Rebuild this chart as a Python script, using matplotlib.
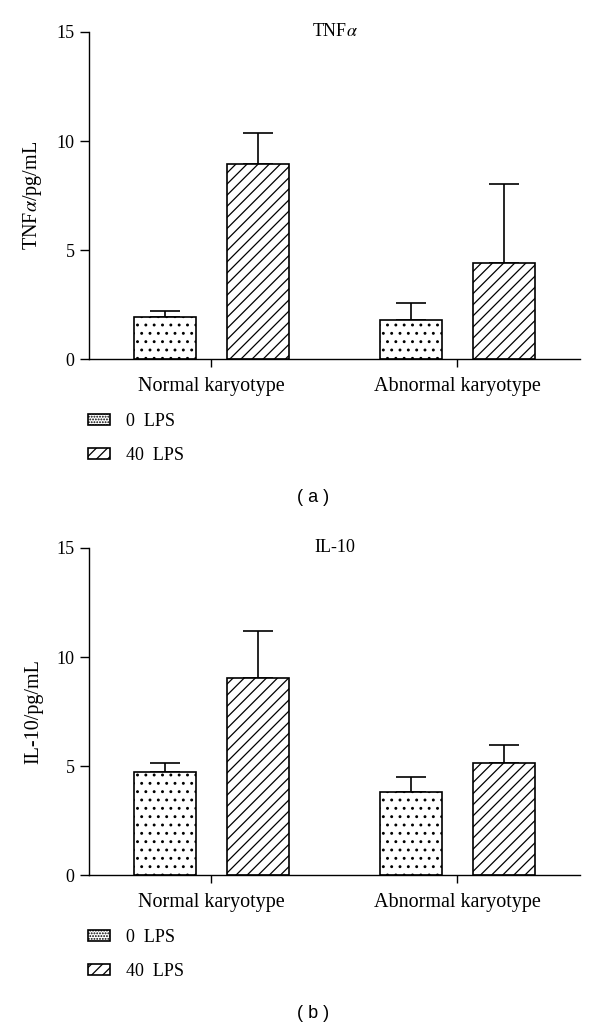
import numpy as np
import matplotlib
matplotlib.use("Agg")
import matplotlib.pyplot as plt
from matplotlib.patches import Patch

# ---------- data ----------
categories = ["Normal karyotype", "Abnormal karyotype"]
series = ["0  LPS", "40  LPS"]

tnf_mean = {"0  LPS": [1.95, 1.80], "40  LPS": [8.95, 4.42]}
tnf_err = {"0  LPS": [0.25, 0.78], "40  LPS": [1.43, 3.62]}

il10_mean = {"0  LPS": [4.74, 3.82], "40  LPS": [9.06, 5.13]}
il10_err = {"0  LPS": [0.40, 0.69], "40  LPS": [2.11, 0.84]}

y_ticks = [0, 5, 10, 15]

# ---------- style ----------
plt.rcParams["font.family"] = ["Liberation Serif", "DejaVu Serif"]
plt.rcParams["mathtext.fontset"] = "stix"
plt.rcParams["hatch.linewidth"] = 0.9

hatches = {"0  LPS": "..", "40  LPS": "///"}
leg_hatches = {"0  LPS": "......", "40  LPS": "///"}
offsets = {"0  LPS": -0.187, "40  LPS": 0.19}
bar_w = 0.252
fs = 13


def draw_panel(ax, means, errs, title, ylabel):
    x = np.arange(len(categories))
    for s in series:
        xs = x + offsets[s]
        ax.bar(xs, means[s], width=bar_w, color="white", edgecolor="black",
               linewidth=1.2, hatch=hatches[s], zorder=2)
        ax.errorbar(xs, means[s], yerr=[np.zeros(len(x)), errs[s]], fmt="none",
                    ecolor="black", elinewidth=1.2, capsize=10.8, capthick=1.2,
                    zorder=1)
    ax.set_xlim(-0.496, 1.5)
    ax.set_ylim(0, 15)
    ax.set_yticks(y_ticks)
    ax.set_xticks(x)
    ax.set_xticklabels(categories, fontsize=14.5)
    ax.tick_params(axis="y", labelsize=fs, length=6.5, width=1, pad=4)
    ax.tick_params(axis="x", length=6, width=1, pad=7)
    for sp in ("top", "right"):
        ax.spines[sp].set_visible(False)
    ax.spines["left"].set_linewidth(1)
    ax.spines["bottom"].set_linewidth(1)
    ax.set_ylabel(ylabel, fontsize=14.5, labelpad=9)
    ax.text(0.5, 1.0, title, transform=ax.transAxes, ha="center", va="center",
            fontsize=fs)


fig = plt.figure(figsize=(6, 10.32), dpi=100)
ax_a = fig.add_axes([0.1483, 0.6521, 0.8184, 0.3169])
ax_b = fig.add_axes([0.1483, 0.1521, 0.8184, 0.3169])

draw_panel(ax_a, tnf_mean, tnf_err, r"TNF$\alpha$", r"TNF$\alpha$/pg/mL")
draw_panel(ax_b, il10_mean, il10_err, "IL-10", "IL-10/pg/mL")

handles = [Patch(facecolor="white", edgecolor="black", linewidth=1.2,
                 hatch=leg_hatches[s], label=s) for s in series]

for y_leg, y_lab, lab in ((0.607, 0.518, "( a )"), (0.107, 0.018, "( b )")):
    fig.legend(handles=handles, loc="upper left",
               bbox_to_anchor=(0.135, y_leg), frameon=False, fontsize=fs,
               handlelength=1.2, handleheight=0.55, labelspacing=0.95,
               handletextpad=0.9, borderaxespad=0)
    fig.text(0.522, y_lab, lab, ha="center", va="center", fontsize=fs,
             family=["Liberation Sans", "DejaVu Sans"])

fig.savefig("out.png", dpi=100)
